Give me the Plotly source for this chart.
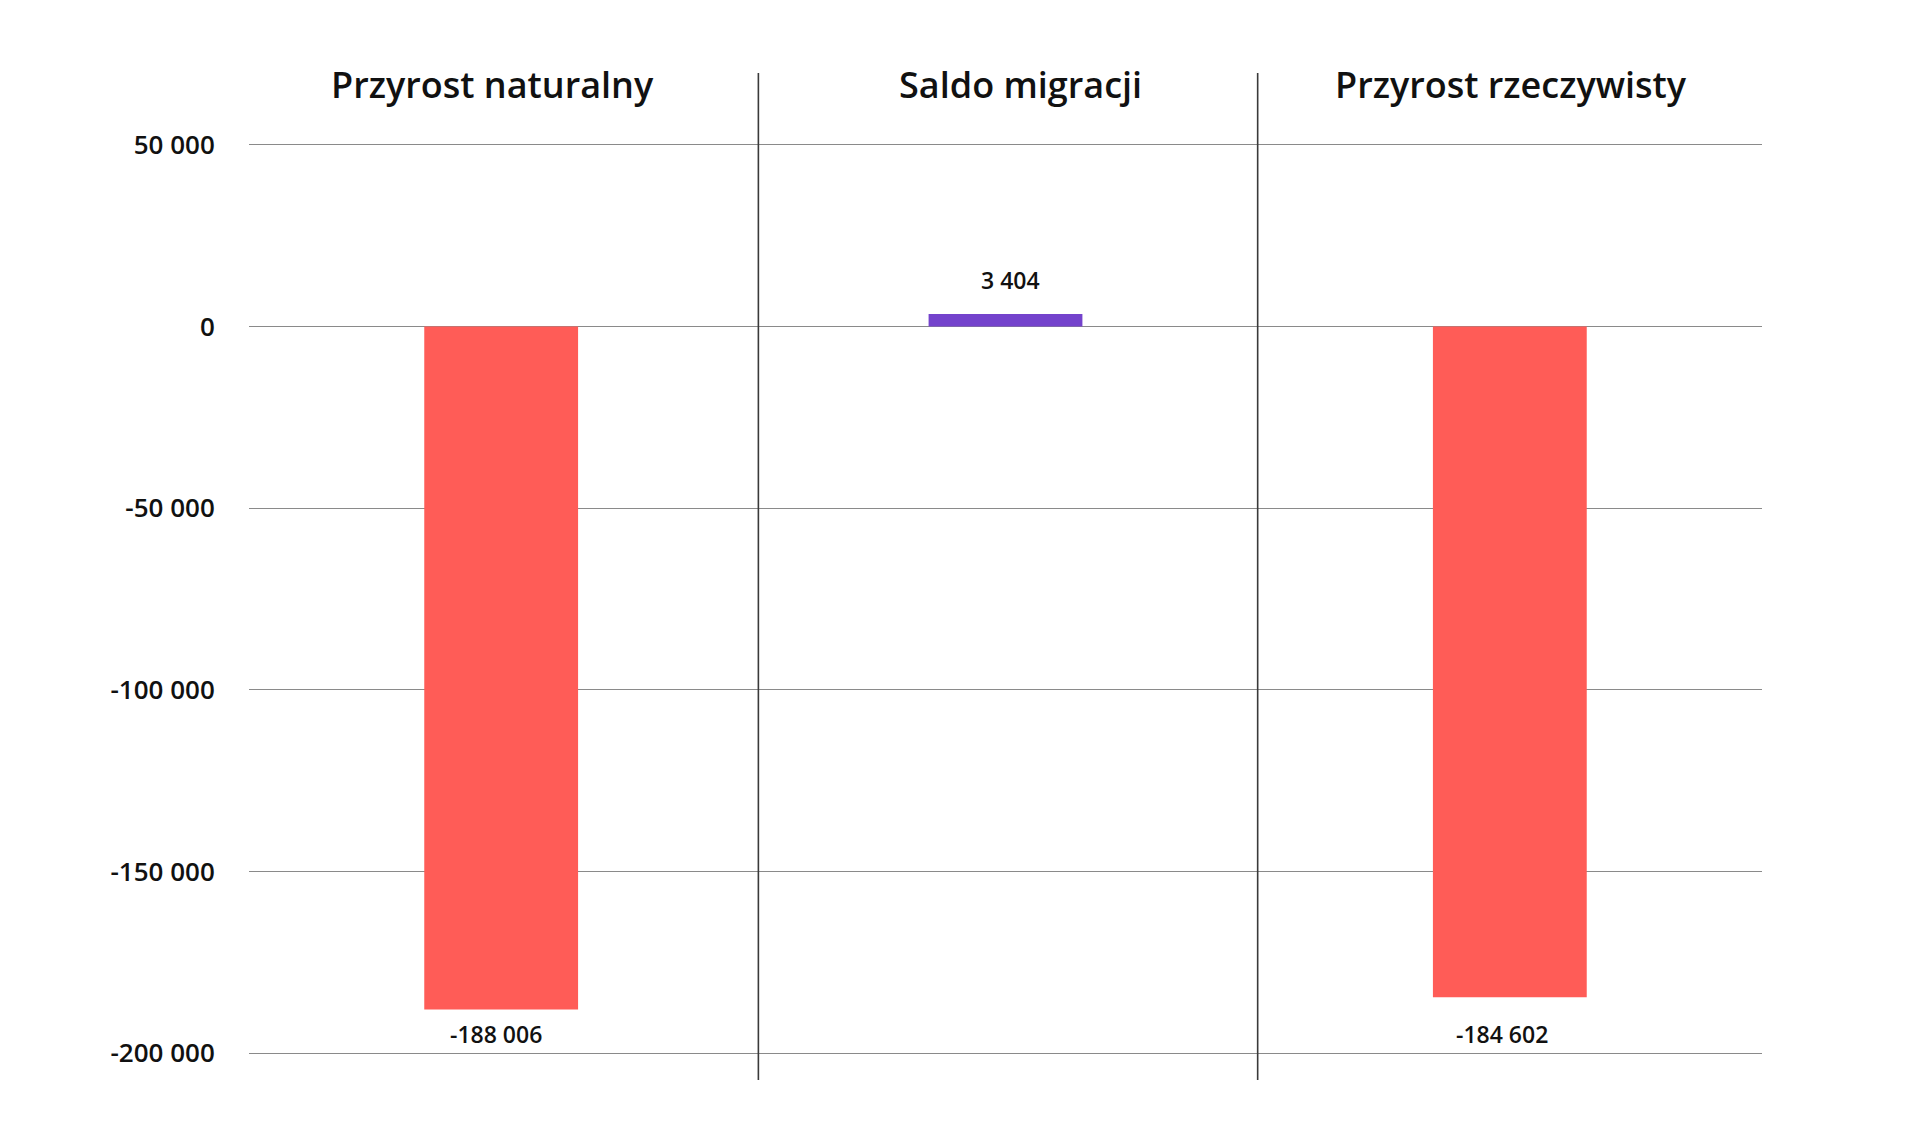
import plotly.graph_objects as go

categories = ["Przyrost naturalny", "Saldo migracji", "Przyrost rzeczywisty"]
values = [-188006, 3404, -184602]
value_labels = ["-188 006", "3 404", "-184 602"]
bar_colors = ["#FF5C57", "#7443CC", "#FF5C57"]
tick_vals = [50000, 0, -50000, -100000, -150000, -200000]
tick_text = ["50 000", "0", "-50 000", "-100 000", "-150 000", "-200 000"]
divider_positions = [0.51, 1.5]

FONT = "Open Sans"
x_idx = list(range(len(categories)))
title_xshift = [-9, 15, 1]
label_xshift = [-5, 5, -8]

fig = go.Figure()
fig.add_trace(go.Bar(
    x=x_idx, y=values, width=0.305,
    marker=dict(color=bar_colors, line=dict(width=0)),
    hoverinfo="skip", showlegend=False,
))

annotations = []
for i, (v, t) in enumerate(zip(values, value_labels)):
    if v > 0:
        annotations.append(dict(
            x=i, y=v, xref="x", yref="y", text=t, showarrow=False,
            yanchor="middle", yshift=34, xshift=label_xshift[i],
            font=dict(family=FONT, size=23, color="#111111", weight=600),
        ))
    else:
        annotations.append(dict(
            x=i, y=0, xref="x", yref="paper", text=t, showarrow=False,
            yanchor="middle", yshift=21, xshift=label_xshift[i],
            font=dict(family=FONT, size=23, color="#111111", weight=600),
        ))

for i, c in enumerate(categories):
    annotations.append(dict(
        x=i, y=1, xref="x", yref="paper", text=c, showarrow=False,
        yanchor="middle", yshift=59, xshift=title_xshift[i],
        font=dict(family=FONT, size=36, color="#111111", weight=600),
    ))

shapes = []
for xp in divider_positions:
    shapes.append(dict(
        type="line", xref="x", yref="paper", x0=xp, x1=xp, y0=-0.0274, y1=1.0768,
        line=dict(color="#3a3a3a", width=1.6), layer="above",
    ))

fig.update_layout(
    width=1904, height=1116,
    margin=dict(l=241, r=150, t=135, b=69),
    paper_bgcolor="white", plot_bgcolor="white",
    font=dict(family=FONT, color="#111111"),
    annotations=annotations, shapes=shapes,
    xaxis=dict(
        range=[-0.5, 2.5], side="top",
        tickmode="array", tickvals=x_idx, ticktext=[""] * len(x_idx),
        showticklabels=False,
        showgrid=False, zeroline=False, showline=False, fixedrange=True,
    ),
    yaxis=dict(
        range=[-200500, 50500],
        tickmode="array", tickvals=tick_vals, ticktext=tick_text,
        ticks="outside", ticklen=28, tickcolor="rgba(0,0,0,0)",
        tickfont=dict(family=FONT, size=26, color="#111111", weight=600),
        showgrid=True, gridcolor="#8a8a8a", gridwidth=1.3,
        zeroline=False, showline=False, fixedrange=True,
    ),
)

fig.write_html("out.html")
